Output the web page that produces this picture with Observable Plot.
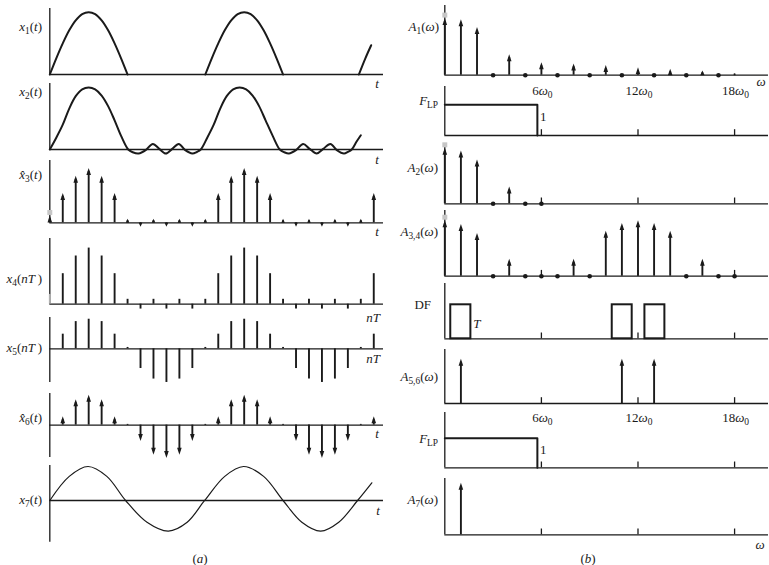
<!DOCTYPE html>
<html><head><meta charset="utf-8">
<script src="https://cdn.jsdelivr.net/npm/d3@7"></script>
<script src="https://cdn.jsdelivr.net/npm/@observablehq/plot@0.6"></script>
<style>
html,body{margin:0;padding:0;background:#fff;}
#fig{position:relative;width:769px;height:565px;overflow:hidden;background:#fff;font-family:"Liberation Serif","Times New Roman",serif;color:#1a1a1a;}
#fig svg{position:absolute;background:transparent;overflow:visible;}
.lab{position:absolute;font-size:13px;line-height:1;white-space:nowrap;}
.r{transform:translate(-100%,-50%);}
.c{transform:translate(-50%,-50%);}
.sub{font-size:0.72em;position:relative;top:0.32em;}
</style></head><body><div id="fig"></div><script>
// ================= DATA =================
// (a) time axis in units of the sample interval T
const x1T = [0,0.5,1,1.5,2,2.5,3,3.5,4,4.5,5,5.5,6, 12,12.5,13,13.5,14,14.5,15,15.5,16,16.5,17,17.5,18, 23.85,24.35,24.8];
const x1V = [0,0.26,0.5,0.71,0.87,0.97,1,0.97,0.87,0.71,0.5,0.26,0, 0,0.26,0.5,0.71,0.87,0.97,1,0.97,0.87,0.71,0.5,0.26,0, 0,0.26,0.47];
const x1Arc = [1,1,1,1,1,1,1,1,1,1,1,1,1, 2,2,2,2,2,2,2,2,2,2,2,2,2, 3,3,3];

const x2T = [0,0.5,1,1.5,2,2.5,3,3.5,4,4.5,5,5.5,
  6.05,6.4,6.85,7.4,7.95,8.45,8.95,9.45,9.95,10.45,11.0,11.35,11.65,
  12.15,12.65,13.15,13.65,14.15,14.65,15.15,15.65,16.15,16.65,17.2,
  17.75,18.1,18.45,19.0,19.55,20.05,20.6,21.1,21.65,22.15,22.7,23.0,23.3,
  23.65,24.0];
const x2V = [0,0.19,0.40,0.66,0.86,0.97,1.0,0.97,0.87,0.70,0.47,0.22,
  0,-0.045,-0.065,-0.01,0.09,0.01,-0.065,0.01,0.09,-0.01,-0.065,-0.04,0,
  0.19,0.40,0.66,0.86,0.97,1.0,0.97,0.87,0.70,0.47,0.22,
  0,-0.045,-0.065,-0.01,0.09,0.01,-0.065,0.01,0.09,-0.01,-0.065,-0.04,0,
  0.12,0.23];

const nIdx = [0,1,2,3,4,5,6,7,8,9,10,11,12,13,14,15,16,17,18,19,20,21,22,23,24,25];
const x3V = [0.12,0.49,0.77,0.9,0.77,0.49,0.065,-0.065,0.065,-0.065,0.065,-0.065,0.065,
  0.49,0.77,0.9,0.77,0.49,0.065,-0.065,0.065,-0.065,0.065,-0.065,0.065,0.49];
const x4V = [0.16,0.5,0.79,0.92,0.79,0.5,0.08,-0.08,0.08,-0.08,0.08,-0.08,0.08,
  0.5,0.79,0.92,0.79,0.5,0.08,-0.08,0.08,-0.08,0.08,-0.08,0.08,0.5];
const x5V = [0,0.43,0.8,0.87,0.8,0.43,0.04,-0.58,-0.89,-0.99,-0.89,-0.58,0.04,
  0.43,0.8,0.87,0.8,0.43,0.04,-0.58,-0.89,-0.99,-0.89,-0.58,0.04,0.43];
const x6V = [0,0.26,0.76,0.89,0.76,0.26,0.04,-0.47,-0.87,-0.97,-0.87,-0.47,0.04,
  0.26,0.76,0.89,0.76,0.26,0.04,-0.47,-0.87,-0.97,-0.87,-0.47,0.04,0.26];

const x7T = [0,1.5,2.95,4.4,5.85,7.5,9.15,10.6,11.95,13.5,14.95,16.5,18.0,19.45,20.9,22.3,23.75,24.85];
const x7V = [0,0.71,1.0,0.71,0,-0.64,-0.9,-0.64,0,0.71,1.0,0.71,0,-0.64,-0.9,-0.64,0,0.52];

// (b) frequency axis in units of omega_0
const a1K = [0,1,2,4,6,8,10,12,14,16,18];
const a1V = [1.02,1.0,0.86,0.375,0.23,0.21,0.18,0.14,0.115,0.085,0.04];
const a1Zero = [3,5,7,9,11,13,15,17];
const a2K = [0,1,2,4];
const a2V = [1.0,0.95,0.79,0.31];
const a2Zero = [3,5,6];
const a34K = [0,1,2,4,8,10,11,12,13,14,16];
const a34V = [1.0,0.93,0.77,0.31,0.31,0.81,0.95,1.0,0.95,0.81,0.31];
const a34Zero = [3,5,6,7,9,15,17,18];
const a56K = [1,11,13];
const a56V = [0.8,0.8,0.8];
const a7K = [1];
const a7V = [0.93];
const lpW = [0,5.75,5.75];
const lpG = [1,1,0];
const dfLo = [0.37,10.4,12.43];
const dfHi = [1.62,11.64,13.67];
const omegaTicks = [6,12,18];
const omegaTickText = ["6ω_0","12ω_0","18ω_0"];

// text labels: [html, x, y, align]
const labelsText = [
  ['<i>x</i><span class="sub">1</span>(<i>t</i>)', 42, 27, 'r'],
  ['<i>x</i><span class="sub">2</span>(<i>t</i>)', 42, 92, 'r'],
  ['<i>x\u0302</i><span class="sub">3</span>(<i>t</i>)', 42, 175, 'r'],
  ['<i>x</i><span class="sub">4</span>(<i>nT</i>\u2009)', 42, 279, 'r'],
  ['<i>x</i><span class="sub">5</span>(<i>nT</i>\u2009)', 42, 348, 'r'],
  ['<i>x\u0302</i><span class="sub">6</span>(<i>t</i>)', 42, 418, 'r'],
  ['<i>x</i><span class="sub">7</span>(<i>t</i>)', 42, 500, 'r'],
  ['<i>t</i>', 377, 83, 'c'], ['<i>t</i>', 377, 159, 'c'], ['<i>t</i>', 377, 231, 'c'],
  ['<i>nT</i>', 373, 317, 'c'], ['<i>nT</i>', 373, 358, 'c'],
  ['<i>t</i>', 377, 433, 'c'], ['<i>t</i>', 378, 510, 'c'],
  ['(<i>a</i>)', 200, 558, 'c'],
  ['<i>A</i><span class="sub">1</span>(<i>ω</i>)', 439, 27, 'r'],
  ['<i>F</i><span class="sub">LP</span>', 438, 101, 'r'],
  ['<i>A</i><span class="sub">2</span>(<i>ω</i>)', 438, 168, 'r'],
  ['<i>A</i><span class="sub">3,4</span>(<i>ω</i>)', 438, 232, 'r'],
  ['DF', 431, 304, 'r'],
  ['<i>A</i><span class="sub">5,6</span>(<i>ω</i>)', 438, 377, 'r'],
  ['<i>F</i><span class="sub">LP</span>', 438, 439, 'r'],
  ['<i>A</i><span class="sub">7</span>(<i>ω</i>)', 438, 500, 'r'],
  ['<i>ω</i>', 761, 81, 'c'], ['<i>ω</i>', 760, 544, 'c'],
  ['(<i>b</i>)', 588, 558, 'c']
];

// ================= DRAWING =================
const fig = document.getElementById("fig");
const INK = "#1a1a1a";
const headUp = {draw(ctx, size){const l=Math.sqrt(size/Math.PI), w=Math.min(2.3,0.45*l); ctx.moveTo(0,0); ctx.lineTo(w,l); ctx.lineTo(-w,l); ctx.closePath();}};
const headDown = {draw(ctx, size){const l=Math.sqrt(size/Math.PI), w=Math.min(2.3,0.45*l); ctx.moveTo(0,0); ctx.lineTo(w,-l); ctx.lineTo(-w,-l); ctx.closePath();}};

const colA = {left: 0, width: 390, ml: 49.3, mr: 7, domain: [0, 25.75]};
const colB = {left: 390, width: 379, ml: 54.3, mr: 1, domain: [0, 20.106]};

function panel(col, g, marks) {
  const bottomPx = g.bottom ?? g.base;
  const top = g.top - 14, bottom = bottomPx + 26;
  const svg = Plot.plot({
    width: col.width, height: bottom - top,
    marginLeft: col.ml, marginRight: col.mr, marginTop: 0, marginBottom: 0,
    x: {domain: col.domain, axis: null},
    y: {domain: [(g.base - bottom) / g.k, (g.base - top) / g.k], axis: null},
    r: {type: "identity"},
    style: {background: "transparent", overflow: "visible", fontFamily: "Liberation Serif, serif", fontSize: "13px", color: INK},
    marks: [
      Plot.ruleY([0], {stroke: INK, strokeWidth: 1.3}),
      Plot.ruleX([0], {y1: (g.base - bottomPx) / g.k, y2: (g.base - g.top) / g.k, stroke: INK, strokeWidth: 1.3}),
      ...marks
    ]
  });
  svg.style.position = "absolute";
  svg.style.left = col.left + "px";
  svg.style.top = top + "px";
  // rich text for omega tick labels
  svg.querySelectorAll("text").forEach(t => {
    const m = t.textContent.match(/^(\d+)ω_(\d)$/);
    if (!m) return;
    t.textContent = m[1];
    const ns = "http://www.w3.org/2000/svg";
    const w = document.createElementNS(ns, "tspan"); w.setAttribute("font-style", "italic"); w.textContent = "ω";
    const s = document.createElementNS(ns, "tspan"); s.setAttribute("font-size", "9.5"); s.setAttribute("dy", "0.3em"); s.textContent = m[2];
    t.append(w, s);
  });
  fig.append(svg);
}

function arrowMarks(xs, vs, k, cap = false) {
  const data = xs.map((x, i) => ({x, v: vs[i]}));
  const head = d => Math.min(7, Math.abs(d.v) * k);
  const marks = [
    Plot.ruleX(data, {x: "x", y1: 0, y2: d => d.v - Math.sign(d.v) * head(d) * 0.5 / k, stroke: INK, strokeWidth: 1.9}),
    Plot.dot(data.filter(d => d.v > 0), {x: "x", y: "v", r: head, symbol: headUp, fill: INK, stroke: "none"}),
    Plot.dot(data.filter(d => d.v < 0), {x: "x", y: "v", r: head, symbol: headDown, fill: INK, stroke: "none"})
  ];
  if (cap) marks.push(Plot.dot(data.filter(d => d.x === 0), {x: "x", y: d => d.v + 3 / k, r: 2.8, symbol: "square", fill: "#c6c6c6", stroke: "none"}));
  return marks;
}
const stemMarks = (xs, vs, stroke = INK) => Plot.ruleX(xs, {x: xs, y1: 0, y2: vs, stroke, strokeWidth: 1.9});
const zeroDots = xs => Plot.dot(xs, {x: xs, y: 0, r: 2.3, fill: INK, stroke: "none"});
const bTicks = k => Plot.ruleX(omegaTicks, {x: omegaTicks, y1: 0, y2: 5.8 / k, stroke: INK, strokeWidth: 1.3});
const bTickLabels = (k, off) => Plot.text(omegaTicks, {x: omegaTicks, y: -off / k, text: omegaTickText, fontSize: 13, dx: 1});

// ---- column (a)
panel(colA, {top: 8, base: 74, k: 62.3}, [
  Plot.line(x1T, {x: x1T, y: x1V, z: x1Arc, curve: "catmull-rom", stroke: INK, strokeWidth: 2})
]);
panel(colA, {top: 83, base: 149, k: 62}, [
  Plot.line(x2T, {x: x2T, y: x2V, curve: "catmull-rom", stroke: INK, strokeWidth: 2})
]);
panel(colA, {top: 160, base: 222.3, k: 61}, arrowMarks(nIdx, x3V, 61, true));
panel(colA, {top: 238.3, base: 304, k: 61}, [
  stemMarks(nIdx.slice(1), x4V.slice(1)),
  stemMarks(nIdx.slice(0, 1), x4V.slice(0, 1), "#b0b0b0")
]);
panel(colA, {top: 316.7, bottom: 381.7, base: 348, k: 34}, [stemMarks(nIdx, x5V)]);
panel(colA, {top: 392.7, bottom: 456.7, base: 424.3, k: 34}, arrowMarks(nIdx, x6V, 34));
panel(colA, {top: 465, bottom: 541.7, base: 500, k: 34}, [
  Plot.line(x7T, {x: x7T, y: x7V, curve: "catmull-rom", stroke: INK, strokeWidth: 1.2})
]);

// ---- column (b)
panel(colB, {top: 5, base: 74.7, k: 56}, [
  ...arrowMarks(a1K, a1V, 56, true), zeroDots(a1Zero), bTickLabels(56, 15.5)
]);
panel(colB, {top: 86, base: 135, k: 30.7}, [
  Plot.line(lpW, {x: lpW, y: lpG, stroke: INK, strokeWidth: 2}), bTicks(30.7),
  Plot.text([lpW[1]], {x: d => d, y: 0.6, text: ["1"], fontSize: 13, dx: 6})
]);
panel(colB, {top: 145, base: 203.3, k: 56}, [
  bTicks(56), ...arrowMarks(a2K, a2V, 56, true), zeroDots(a2Zero)
]);
panel(colB, {top: 210, base: 275.7, k: 56}, [
  bTicks(56), ...arrowMarks(a34K, a34V, 56, true), zeroDots(a34Zero)
]);
panel(colB, {top: 283, base: 338.3, k: 34}, [
  bTicks(34),
  Plot.rect(dfLo, {x1: dfLo, x2: dfHi, y1: 0, y2: 1, fill: "none", stroke: INK, strokeWidth: 2}),
  Plot.text([dfHi[0]], {x: d => d, y: 0.45, text: ["T"], fontSize: 13, fontStyle: "italic", dx: 6})
]);
panel(colB, {top: 349.3, base: 403.3, k: 56}, [
  bTicks(56), ...arrowMarks(a56K, a56V, 56), bTickLabels(56, 14)
]);
panel(colB, {top: 412, base: 467.3, k: 29.6}, [
  Plot.line(lpW, {x: lpW, y: lpG, stroke: INK, strokeWidth: 2}), bTicks(29.6),
  Plot.text([lpW[1]], {x: d => d, y: 0.6, text: ["1"], fontSize: 13, dx: 6})
]);
panel(colB, {top: 477.7, base: 534, k: 56}, [
  bTicks(56), ...arrowMarks(a7K, a7V, 56)
]);

// ---- labels
for (const [html, x, y, al] of labelsText) {
  const d = document.createElement("div");
  d.className = "lab " + al;
  d.style.left = x + "px"; d.style.top = y + "px";
  d.innerHTML = html;
  fig.append(d);
}
</script></body></html>
